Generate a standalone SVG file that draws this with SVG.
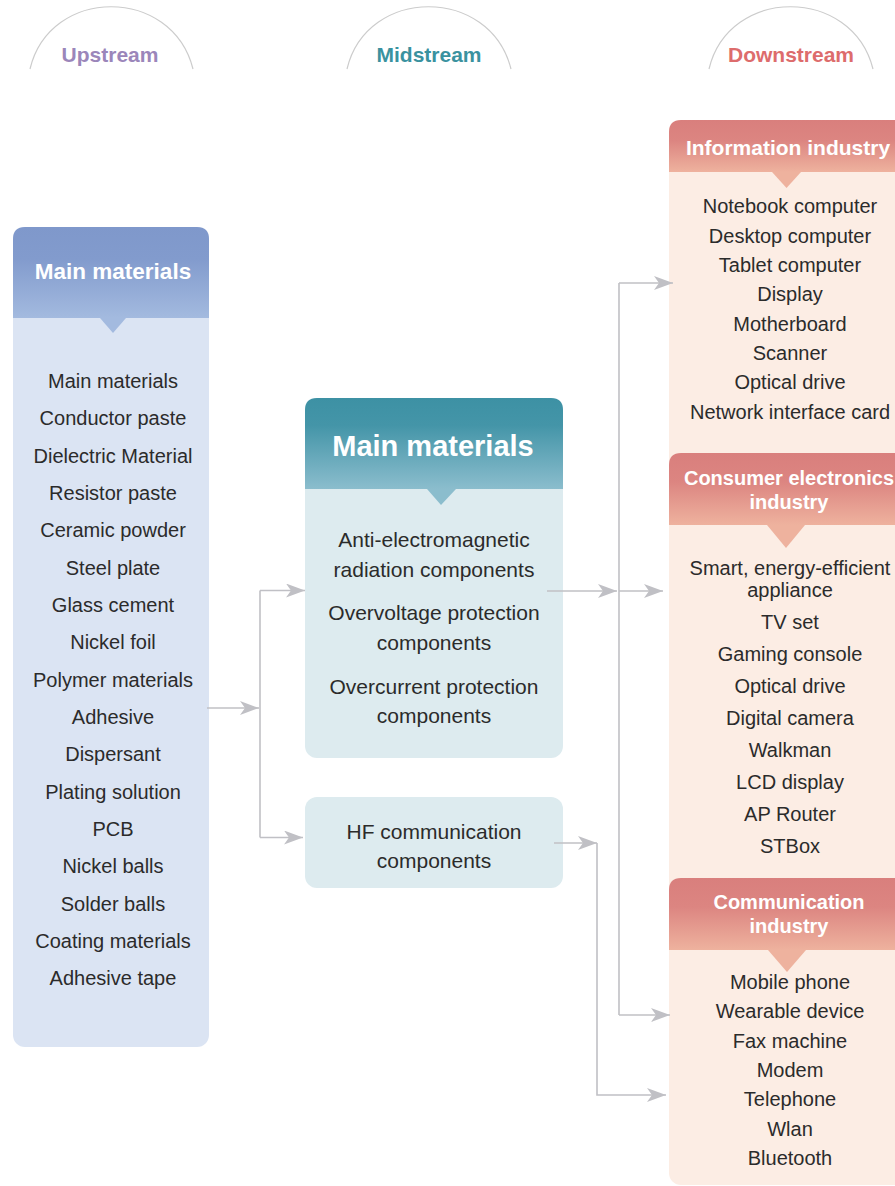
<svg xmlns="http://www.w3.org/2000/svg" width="895" height="1186" viewBox="0 0 895 1186">
  <defs>
    <linearGradient id="gUp" x1="0" y1="0" x2="0" y2="1">
      <stop offset="0" stop-color="#7f98cb"/>
      <stop offset="0.35" stop-color="#829bcd"/>
      <stop offset="1" stop-color="#a3badf"/>
    </linearGradient>
    <linearGradient id="gMid" x1="0" y1="0" x2="0" y2="1">
      <stop offset="0" stop-color="#3d91a4"/>
      <stop offset="0.3" stop-color="#4495a8"/>
      <stop offset="1" stop-color="#8bbdcd"/>
    </linearGradient>
    <linearGradient id="gDown" x1="0" y1="0" x2="0" y2="1">
      <stop offset="0" stop-color="#d97f7d"/>
      <stop offset="0.4" stop-color="#dc8581"/>
      <stop offset="1" stop-color="#eeb29e"/>
    </linearGradient>
    <marker id="arrow" markerUnits="userSpaceOnUse" markerWidth="19" markerHeight="15" refX="19" refY="7" orient="auto">
      <path d="M0,0 L19,7 L0,14 L5,7 z" fill="#c0c0c5"/>
    </marker>
    <style>
      .arc { fill: none; stroke: #cccccc; stroke-width: 1.2; }
      .stage { font-family: "Liberation Sans", Arial, sans-serif; font-weight: bold; font-size: 21px; text-anchor: middle; }
      .head { font-family: "Liberation Sans", Arial, sans-serif; font-weight: bold; fill: #ffffff; text-anchor: middle; }
      .item { font-family: "Liberation Sans", Arial, sans-serif; font-size: 20px; fill: #2b2b2b; text-anchor: middle; }
      .mitem { font-family: "Liberation Sans", Arial, sans-serif; font-size: 21px; fill: #2b2b2b; text-anchor: middle; }
      .conn { fill: none; stroke: #c0c0c5; stroke-width: 1.6; }
    </style>
  </defs>

  <!-- stage labels with arches -->
  <g id="stage-upstream">
    <path class="arc" d="M30,69 C50,-14 172,-14 193,69"/>
    <text class="stage" x="110" y="62" fill="#9b86ba">Upstream</text>
  </g>
  <g id="stage-midstream">
    <path class="arc" d="M347,69 C367,-14 490,-14 511,69"/>
    <text class="stage" x="429" y="62" fill="#3a929f">Midstream</text>
  </g>
  <g id="stage-downstream">
    <path class="arc" d="M709,69 C729,-14 852,-14 873,69"/>
    <text class="stage" x="791" y="62" fill="#dd6c6c">Downstream</text>
  </g>

  <!-- upstream: main materials -->
  <g id="upstream-materials">
    <rect x="13" y="227" width="196" height="820" rx="12" fill="#dbe4f3"/>
    <path d="M13,318 V239 Q13,227 25,227 H197 Q209,227 209,239 V318 z" fill="url(#gUp)"/>
    <path d="M100,318 L126,318 L113,333 z" fill="#a3badf"/>
    <text class="head" x="113" y="279" font-size="22.5">Main materials</text>
    <text class="item" x="113" y="388">Main materials</text>
    <text class="item" x="113" y="425.3">Conductor paste</text>
    <text class="item" x="113" y="462.7">Dielectric Material</text>
    <text class="item" x="113" y="500">Resistor paste</text>
    <text class="item" x="113" y="537.4">Ceramic powder</text>
    <text class="item" x="113" y="574.7">Steel plate</text>
    <text class="item" x="113" y="612">Glass cement</text>
    <text class="item" x="113" y="649.4">Nickel foil</text>
    <text class="item" x="113" y="686.7">Polymer materials</text>
    <text class="item" x="113" y="724">Adhesive</text>
    <text class="item" x="113" y="761.4">Dispersant</text>
    <text class="item" x="113" y="798.7">Plating solution</text>
    <text class="item" x="113" y="836">PCB</text>
    <text class="item" x="113" y="873.4">Nickel balls</text>
    <text class="item" x="113" y="910.7">Solder balls</text>
    <text class="item" x="113" y="948">Coating materials</text>
    <text class="item" x="113" y="985.4">Adhesive tape</text>
  </g>

  <!-- midstream: components -->
  <g id="midstream-components">
    <rect x="305" y="398" width="258" height="360" rx="12" fill="#ddebef"/>
    <path d="M305,489 V410 Q305,398 317,398 H551 Q563,398 563,410 V489 z" fill="url(#gMid)"/>
    <path d="M427,489 L456,489 L441,505 z" fill="#8bbdcd"/>
    <text class="head" x="433" y="456" font-size="29">Main materials</text>
    <text class="mitem" x="434" y="547">Anti-electromagnetic</text>
    <text class="mitem" x="434" y="577">radiation components</text>
    <text class="mitem" x="434" y="620">Overvoltage protection</text>
    <text class="mitem" x="434" y="650">components</text>
    <text class="mitem" x="434" y="694">Overcurrent protection</text>
    <text class="mitem" x="434" y="723">components</text>
  </g>

  <g id="midstream-hf">
    <rect x="305" y="797" width="258" height="91" rx="12" fill="#ddebef"/>
    <text class="mitem" x="434" y="839">HF communication</text>
    <text class="mitem" x="434" y="868">components</text>
  </g>

  <!-- downstream column -->
  <g id="downstream">
    <rect x="669" y="120" width="250" height="1065" rx="12" fill="#fcede4"/>
  </g>

  <g id="downstream-information">
    <path d="M669,172 V132 Q669,120 681,120 H900 V172 z" fill="url(#gDown)"/>
    <path d="M772,172 L801,172 L786.5,188 z" fill="#eeb29e"/>
    <text class="head" x="788" y="155" font-size="21">Information industry</text>
    <text class="item" x="790" y="213">Notebook computer</text>
    <text class="item" x="790" y="243">Desktop computer</text>
    <text class="item" x="790" y="272">Tablet computer</text>
    <text class="item" x="790" y="301">Display</text>
    <text class="item" x="790" y="331">Motherboard</text>
    <text class="item" x="790" y="360">Scanner</text>
    <text class="item" x="790" y="389">Optical drive</text>
    <text class="item" x="790" y="419">Network interface card</text>
  </g>

  <g id="downstream-consumer">
    <path d="M669,525 V465 Q669,453 681,453 H900 V525 z" fill="url(#gDown)"/>
    <path d="M767,525 L805,525 L786,548 z" fill="#eeb29e"/>
    <text class="head" x="789" y="485" font-size="20">Consumer electronics</text>
    <text class="head" x="789" y="509" font-size="20">industry</text>
    <text class="item" x="790" y="575">Smart, energy-efficient</text>
    <text class="item" x="790" y="597">appliance</text>
    <text class="item" x="790" y="629">TV set</text>
    <text class="item" x="790" y="661">Gaming console</text>
    <text class="item" x="790" y="693">Optical drive</text>
    <text class="item" x="790" y="725">Digital camera</text>
    <text class="item" x="790" y="757">Walkman</text>
    <text class="item" x="790" y="789">LCD display</text>
    <text class="item" x="790" y="821">AP Router</text>
    <text class="item" x="790" y="853">STBox</text>
  </g>

  <g id="downstream-communication">
    <path d="M669,950 V890 Q669,878 681,878 H900 V950 z" fill="url(#gDown)"/>
    <path d="M768,950 L806,950 L787,972 z" fill="#eeb29e"/>
    <text class="head" x="789" y="909" font-size="20">Communication</text>
    <text class="head" x="789" y="933" font-size="20">industry</text>
    <text class="item" x="790" y="989">Mobile phone</text>
    <text class="item" x="790" y="1018">Wearable device</text>
    <text class="item" x="790" y="1048">Fax machine</text>
    <text class="item" x="790" y="1077">Modem</text>
    <text class="item" x="790" y="1106">Telephone</text>
    <text class="item" x="790" y="1136">Wlan</text>
    <text class="item" x="790" y="1165">Bluetooth</text>
  </g>

  <!-- connectors -->
  <g id="connectors">
    <path class="conn" d="M207,708 H259" marker-end="url(#arrow)"/>
    <path class="conn" d="M260,590.5 V837.5"/>
    <path class="conn" d="M260,590.5 H305" marker-end="url(#arrow)"/>
    <path class="conn" d="M260,837.5 H303" marker-end="url(#arrow)"/>

    <path class="conn" d="M547,591 H617" marker-end="url(#arrow)"/>
    <path class="conn" d="M619,283 V1015"/>
    <path class="conn" d="M619,283 H673" marker-end="url(#arrow)"/>
    <path class="conn" d="M619,591 H663" marker-end="url(#arrow)"/>
    <path class="conn" d="M619,1015 H670" marker-end="url(#arrow)"/>

    <path class="conn" d="M554,843 H597" marker-end="url(#arrow)"/>
    <path class="conn" d="M597,843 V1095 H666" marker-end="url(#arrow)"/>
  </g>
</svg>
